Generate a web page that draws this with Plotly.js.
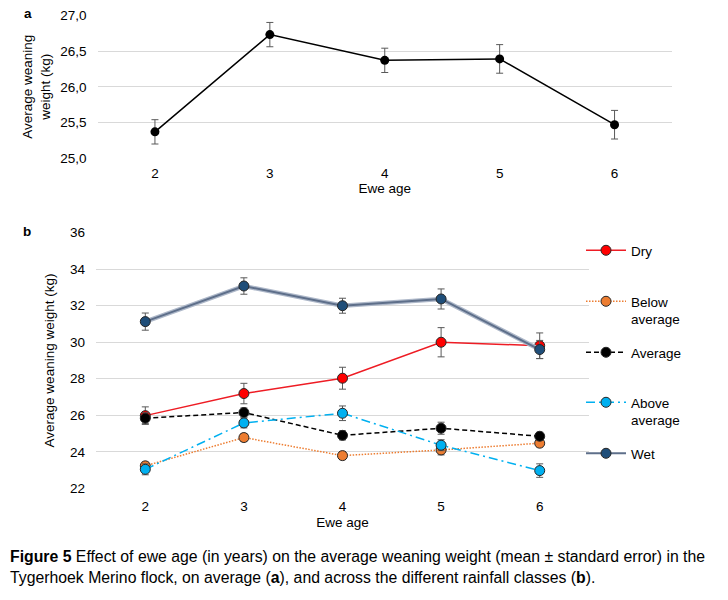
<!DOCTYPE html>
<html>
<head>
<meta charset="utf-8">
<script src="https://cdn.plot.ly/plotly-3.0.1.min.js"></script>
<style>html,body{margin:0;padding:0;background:#fff;}#chart{width:728px;height:600px;}</style>
</head>
<body>
<div id="chart"></div>
<script>
// Ewe age categories
var ages = [2, 3, 4, 5, 6];

// Panel a: overall average weaning weight (kg) and standard error
var avgAll = [25.37, 26.73, 26.37, 26.39, 25.47];
var seAll = [0.17, 0.17, 0.17, 0.2, 0.2];

// Panel b: by rainfall class
var seriesNames = ["Dry", "Below<br>average", "Average", "Above<br>average", "Wet"];
var dry = [25.98, 27.19, 28.03, 30.0, 29.81];
var dryErr = [0.48, 0.56, 0.6, 0.8, 0.7];
var below = [23.23, 24.78, 23.79, 24.1, 24.47];
var belowErr = [0.2, 0.22, 0.22, 0.27, 0.2];
var average = [25.84, 26.15, 24.9, 25.29, 24.85];
var averageErr = [0.3, 0.25, 0.25, 0.33, 0.22];
var above = [23.04, 25.58, 26.11, 24.36, 22.97];
var aboveErr = [0.3, 0.27, 0.4, 0.3, 0.37];
var wet = [31.13, 33.08, 32.0, 32.37, 29.6];
var wetErr = [0.47, 0.45, 0.41, 0.55, 0.5];

var ebStyle = function (arr) {
  return {type: 'data', array: arr, visible: true, color: '#595959', thickness: 1, width: 3.5};
};

var fontFam = 'Arial, "Liberation Sans", sans-serif';
var fs = 13.5;

var traces = [];
traces.push({
  x: ages, y: avgAll, xaxis: 'x', yaxis: 'y', type: 'scatter', mode: 'lines+markers',
  line: {color: '#000000', width: 1.5},
  marker: {color: '#000000', size: 9},
  error_y: ebStyle(seAll), showlegend: false, hoverinfo: 'x+y'
});

function bTrace(y, err, name, lineColor, dash, width, markerColor, legendId) {
  return {
    x: ages, y: y, xaxis: 'x2', yaxis: 'y2', type: 'scatter', mode: 'lines+markers', name: name,
    line: {color: lineColor, width: width, dash: dash},
    marker: {color: markerColor, size: 10, line: {color: '#262626', width: 1}},
    error_y: ebStyle(err), legend: legendId
  };
}

traces.push(bTrace(dry, dryErr, seriesNames[0], '#EE1C24', 'solid', 1.5, '#FF0000', 'legend'));
traces.push(bTrace(below, belowErr, seriesNames[1], '#ED7D31', '1.5px,1.5px', 1.5, '#ED7D31', 'legend2'));
traces.push(bTrace(average, averageErr, seriesNames[2], '#000000', '5px,3px', 1.5, '#000000', 'legend3'));
traces.push(bTrace(above, aboveErr, seriesNames[3], '#00B0F0', '9px,4px,2px,4px', 1.5, '#00B0F0', 'legend4'));
// Wet: a wide light band underneath plus the main darker line
traces.push({
  x: ages, y: wet, xaxis: 'x2', yaxis: 'y2', type: 'scatter', mode: 'lines',
  line: {color: '#AEB8C9', width: 4.5}, showlegend: false, hoverinfo: 'skip'
});
traces.push(bTrace(wet, wetErr, seriesNames[4], '#5E6F8A', 'solid', 2, '#1F4E79', 'legend5'));

function legendAt(yCenter) {
  return {
    x: 581 / 728, xanchor: 'left', y: 1 - yCenter / 600, yanchor: 'top',
    bgcolor: 'rgba(0,0,0,0)', font: {family: fontFam, size: fs, color: '#000'},
    itemwidth: 40, valign: 'top', tracegroupgap: 0
  };
}

var layout = {
  width: 728, height: 600,
  margin: {l: 0, r: 0, t: 0, b: 0},
  paper_bgcolor: '#ffffff', plot_bgcolor: '#ffffff',
  separators: ',.',
  font: {family: fontFam, size: fs, color: '#000'},
  xaxis: {
    domain: [97.5 / 728, 672 / 728], anchor: 'y', range: [1.5, 6.5],
    tickvals: ages, showgrid: false, zeroline: false, showline: false, ticks: '',
    ticklabelstandoff: 5,
    tickfont: {size: fs}, title: {text: 'Ewe age', font: {size: fs}, standoff: 2}
  },
  yaxis: {
    domain: [1 - 158.3 / 600, 1 - 15.3 / 600], anchor: 'x', range: [25, 27], dtick: 0.5,
    tickformat: '.1f', gridcolor: '#D9D9D9', gridwidth: 1, zeroline: false, showline: false,
    ticks: '', tickfont: {size: fs}, ticklabelstandoff: 10,
    title: {text: 'Average weaning<br>weight (kg)', font: {size: fs}, standoff: 6}
  },
  xaxis2: {
    domain: [96 / 728, 589 / 728], anchor: 'y2', range: [1.5, 6.5],
    tickvals: ages, showgrid: false, zeroline: false, showline: false, ticks: '',
    ticklabelstandoff: 8,
    tickfont: {size: fs}, title: {text: 'Ewe age', font: {size: fs}, standoff: 4}
  },
  yaxis2: {
    domain: [1 - 488.3 / 600, 1 - 232.7 / 600], anchor: 'x2', range: [22, 36], dtick: 2,
    gridcolor: '#D9D9D9', gridwidth: 1, zeroline: false, showline: false,
    ticks: '', tickfont: {size: fs}, ticklabelstandoff: 10,
    title: {text: 'Average weaning weight (kg)', font: {size: fs}, standoff: 12}
  },
  legend: legendAt(235),
  legend2: legendAt(286),
  legend3: legendAt(337),
  legend4: legendAt(387),
  legend5: legendAt(438),
  annotations: [
    {text: '<b>a</b>', xref: 'paper', yref: 'paper', x: 28 / 728, y: 1 - 14 / 600, xanchor: 'center', yanchor: 'middle', showarrow: false, font: {size: fs}},
    {text: '<b>b</b>', xref: 'paper', yref: 'paper', x: 27 / 728, y: 1 - 231 / 600, xanchor: 'center', yanchor: 'middle', showarrow: false, font: {size: fs}},
    {text: '<b>Figure 5</b> Effect of ewe age (in years) on the average weaning weight (mean ± standard error) in the<br>Tygerhoek Merino flock, on average (<b>a</b>), and across the different rainfall classes (<b>b</b>).',
     xref: 'paper', yref: 'paper', x: 8 / 728, y: 1 - 546 / 600, xanchor: 'left', yanchor: 'top', align: 'left',
     showarrow: false, font: {size: 15.8}}
  ]
};

Plotly.newPlot('chart', traces, layout, {displayModeBar: false, responsive: false});
</script>
</body>
</html>
